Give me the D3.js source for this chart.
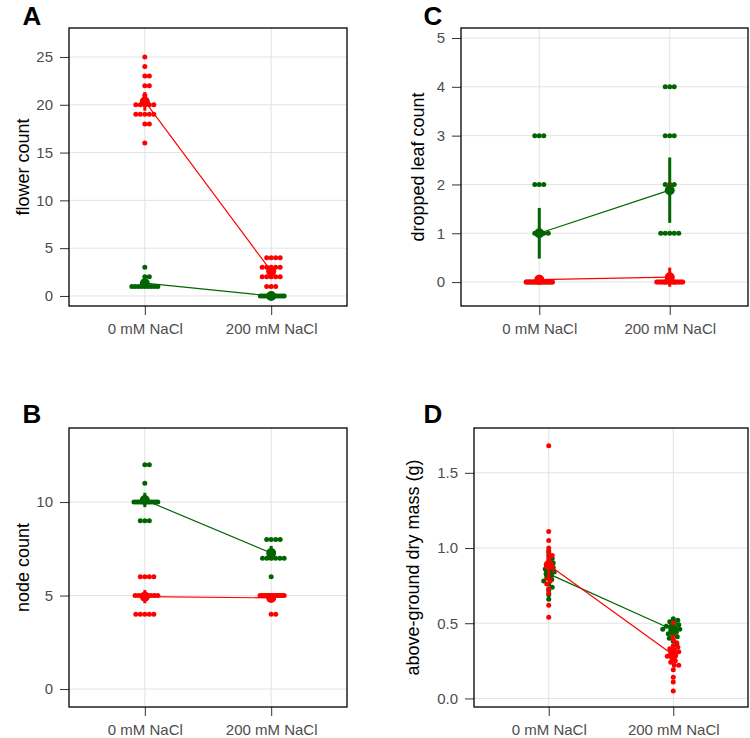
<!DOCTYPE html>
<html><head><meta charset="utf-8">
<script src="https://cdn.jsdelivr.net/npm/d3@7/dist/d3.min.js"></script>
<style>body{margin:0;background:#fff}svg{display:block}</style>
</head><body>
<svg id="c" width="750" height="738"></svg>
<script>
// ---------- data ----------
const categories = ["0 mM NaCl", "200 mM NaCl"];

// A: flower count
const flowerRed0 = [25,24,23,23,22,22,21,20,20,20,20,20,19,19,19,19,19,18,18,16];
const flowerRed200 = [4,4,4,4,3,3,3,3,3,2,2,2,2,2,1,1,1];
const flowerGreen0 = [3,2,2,1,1,1,1,1,1,1,1,1];
const flowerGreen200 = [0,0,0,0,0,0,0,0,0,0,0,0];

// B: node count
const nodeRed0 = [6,6,6,6,5,5,5,5,5,5,5,5,4,4,4,4,4];
const nodeRed200 = [5,5,5,5,5,5,5,5,5,5,5,5,5,5,4,4];
const nodeGreen0 = [12,12,11,10,10,10,10,10,10,10,10,10,10,10,10,9,9,9];
const nodeGreen200 = [8,8,8,8,7,7,7,7,7,7,6];

// C: dropped leaf count
const leafRed0 = [1,0,0,0,0,0,0,0,0,0,0,0,0,0,0,0,0,0,0,0];
const leafRed200 = [2,0,0,0,0,0,0,0,0,0,0,0,0,0,0,0,0,0,0,0];
const leafGreen0 = [3,3,3,2,2,2,1,1,1,1,0,0,0,0,0,0,0,0,0];
const leafGreen200 = [4,4,4,3,3,3,2,2,2,1,1,1,1,1,0,0,0];

// D: above-ground dry mass (g)
const massRed0 = [1.68,1.11,1.05,1.0,0.97,0.95,0.93,0.9,0.88,0.86,0.84,0.83,0.81,0.8,0.78,0.76,0.73,0.7,0.62,0.54];
const massRed200 = [0.5,0.45,0.42,0.39,0.37,0.35,0.34,0.33,0.32,0.31,0.3,0.29,0.28,0.27,0.25,0.24,0.22,0.22,0.19,0.14,0.11,0.05];
const massGreen0 = [0.98,0.95,0.93,0.91,0.9,0.88,0.87,0.86,0.85,0.84,0.83,0.82,0.8,0.79,0.78,0.76,0.74,0.72,0.69,0.66];
const massGreen200 = [0.53,0.52,0.51,0.5,0.49,0.48,0.48,0.47,0.46,0.46,0.45,0.44,0.43,0.42,0.41,0.4,0.38,0.36];

// ticks
const ticksA = [0,5,10,15,20,25];
const ticksB = [0,5,10];
const ticksC = [0,1,2,3,4,5];
const ticksD = [0,0.5,1.0,1.5];
const tickLabelsD = ["0.0","0.5","1.0","1.5"];

const RED = "#ff0000", GREEN = "#006400";
const FONT = "'Liberation Sans', Arial, Helvetica, sans-serif";

const panels = [
  {letter:"A", title:"flower count", red:[flowerRed0,flowerRed200], green:[flowerGreen0,flowerGreen200],
   ticks:ticksA, labels:ticksA.map(String), box:{l:69,r:347,t:28,b:306}, domain:[-1.05,28.03], titleX:23, letterX:32, letterY:25},
  {letter:"B", title:"node count", red:[nodeRed0,nodeRed200], green:[nodeGreen0,nodeGreen200],
   ticks:ticksB, labels:ticksB.map(String), box:{l:69,r:347,t:428,b:707}, domain:[-0.96,13.96], titleX:23, letterX:32, letterY:423},
  {letter:"C", title:"dropped leaf count", red:[leafRed0,leafRed200], green:[leafGreen0,leafGreen200],
   ticks:ticksC, labels:ticksC.map(String), box:{l:461,r:748,t:28,b:306}, domain:[-0.49,5.205], titleX:418, letterX:433, letterY:25},
  {letter:"D", title:"above-ground dry mass (g)", red:[massRed0,massRed200], green:[massGreen0,massGreen200],
   ticks:ticksD, labels:tickLabelsD, box:{l:474,r:748,t:428,b:707}, domain:[-0.057,1.798], titleX:413, letterX:433, letterY:423}
];

const svg = d3.select("#c");
svg.append("rect").attr("width",750).attr("height",738).attr("fill","#fff");

const R = 2.5;
const MAXHALF = 13;

function swarm(values, y, cx) {
  const pts = values.map(v => ({v, y: y(v)}));
  const placed = [];
  const minD = 2*R*0.9;
  pts.forEach(p => {
    let off = 0;
    for (let k = 0; k < 600; k++) {
      const cand = k === 0 ? 0 : (k % 2 ? 1 : -1) * Math.ceil(k/2) * 0.5;
      const ok = placed.every(q => {
        const dx = q.off - cand, dy = q.y - p.y;
        return dx*dx + dy*dy >= minD*minD;
      });
      if (ok) { off = cand; break; }
    }
    p.off = off;
    placed.push(p);
  });
  // compress over-wide rows (points sharing a value) to a fixed half-width
  const byVal = d3.group(placed, d => d.v);
  byVal.forEach(row => {
    const m = d3.max(row, d => Math.abs(d.off));
    if (m > MAXHALF) row.forEach(d => d.off = d.off * MAXHALF / m);
  });
  placed.forEach(p => p.x = cx + p.off);
  return placed;
}

function stats(vals) {
  const m = d3.mean(vals);
  const se = d3.deviation(vals) / Math.sqrt(vals.length);
  return {m, lo: m - 1.96*se, hi: m + 1.96*se};
}

panels.forEach(P => {
  const b = P.box;
  const g = svg.append("g");
  const x = d3.scalePoint().domain(categories).range([b.l, b.r]).padding(0.6);
  const y = d3.scaleLinear().domain(P.domain).range([b.b, b.t]);

  // grid
  g.selectAll(".gy").data(P.ticks).join("line")
    .attr("x1", b.l).attr("x2", b.r).attr("y1", d => y(d)).attr("y2", d => y(d))
    .attr("stroke", "#e3e3e3").attr("stroke-width", 1);
  g.selectAll(".gx").data(categories).join("line")
    .attr("x1", d => x(d)).attr("x2", d => x(d)).attr("y1", b.t).attr("y2", b.b)
    .attr("stroke", "#e3e3e3").attr("stroke-width", 1);

  // axes ticks
  const yAxis = d3.axisLeft(y).tickValues(P.ticks).tickFormat((d,i) => P.labels[i]).tickSize(9).tickPadding(7);
  const ya = g.append("g").attr("transform", `translate(${b.l},0)`).call(yAxis);
  const xAxis = d3.axisBottom(x).tickSize(9).tickPadding(8);
  const xa = g.append("g").attr("transform", `translate(0,${b.b})`).call(xAxis);
  [ya, xa].forEach(a => {
    a.select(".domain").remove();
    a.selectAll(".tick line").attr("stroke", "#333").attr("stroke-width", 1);
    a.selectAll(".tick text").attr("fill", "#4d4d4d").style("font-family", FONT).style("font-size", "15px");
  });

  // points
  const groups = [{vals:P.green, col:GREEN}, {vals:P.red, col:RED}];
  groups.forEach(G => {
    G.vals.forEach((vals, i) => {
      const pts = swarm(vals, y, x(categories[i]));
      g.append("g").selectAll("circle").data(pts).join("circle")
        .attr("cx", d => d.x).attr("cy", d => d.y).attr("r", R).attr("fill", G.col);
    });
  });
  // means, error bars, lines
  groups.forEach(G => {
    const st = G.vals.map(stats);
    const line = d3.line().x((d,i) => x(categories[i])).y(d => y(d.m));
    g.append("path").datum(st).attr("d", line).attr("fill","none").attr("stroke", G.col).attr("stroke-width", 1.2);
    g.append("g").selectAll("line").data(st).join("line")
      .attr("x1", (d,i) => x(categories[i])).attr("x2", (d,i) => x(categories[i]))
      .attr("y1", d => y(d.lo)).attr("y2", d => y(d.hi))
      .attr("stroke", G.col).attr("stroke-width", 3);
    g.append("g").selectAll("circle").data(st).join("circle")
      .attr("cx", (d,i) => x(categories[i])).attr("cy", d => y(d.m)).attr("r", 5).attr("fill", G.col);
  });

  // box
  g.append("rect").attr("x", b.l).attr("y", b.t).attr("width", b.r - b.l).attr("height", b.b - b.t)
    .attr("fill","none").attr("stroke","#000").attr("stroke-width",1.3);

  // title
  g.append("text").attr("transform", `translate(${P.titleX},${(b.t+b.b)/2}) rotate(-90)`)
    .attr("text-anchor","middle").attr("dominant-baseline","central")
    .style("font-family", FONT).style("font-size","18px").attr("fill","#000").text(P.title);
  // letter
  g.append("text").attr("x", P.letterX).attr("y", P.letterY).attr("text-anchor","middle")
    .style("font-family", FONT).style("font-size","26px").style("font-weight","bold").attr("fill","#000").text(P.letter);
});
</script>
</body></html>
